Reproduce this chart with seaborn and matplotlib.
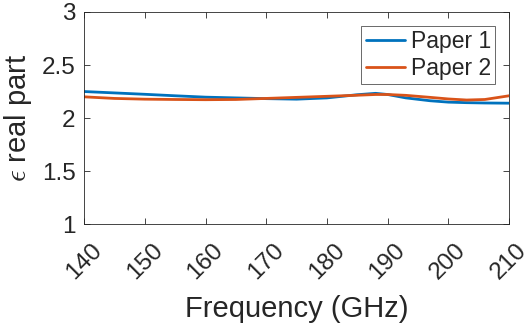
import numpy as np
import pandas as pd
import matplotlib
matplotlib.use('Agg')
import matplotlib.pyplot as plt
import seaborn as sns

# data
freq = [140, 145, 150, 155, 160, 165, 170, 175, 180, 185, 188, 190, 193, 197, 200, 203, 206, 210]
paper1 = [2.25, 2.237, 2.224, 2.21, 2.197, 2.19, 2.183, 2.178, 2.19, 2.22, 2.233, 2.222,
          2.19, 2.163, 2.15, 2.145, 2.142, 2.14]
paper2 = [2.20, 2.185, 2.178, 2.175, 2.173, 2.175, 2.185, 2.195, 2.205, 2.215, 2.222, 2.222,
          2.214, 2.195, 2.18, 2.17, 2.175, 2.21]
yticks = [1, 1.5, 2, 2.5, 3]
ytick_labels = ['1', '1.5', '2', '2.5', '3']
xticks = [140, 150, 160, 170, 180, 190, 200, 210]

sns.set_style('ticks')
plt.rcParams['font.family'] = ['Liberation Sans', 'DejaVu Sans']
plt.rcParams['mathtext.fontset'] = 'cm'

df = pd.DataFrame({'Frequency': freq * 2,
                   'eps': paper1 + paper2,
                   'src': ['Paper 1'] * len(freq) + ['Paper 2'] * len(freq)})

fig = plt.figure(figsize=(5.32, 3.33), dpi=100)
ax = fig.add_axes([0.158, 0.327, 0.799, 0.637])
sns.lineplot(data=df, x='Frequency', y='eps', hue='src',
             palette=['#0072BD', '#D95319'], linewidth=2, ax=ax)

ax.set_xlim(140, 210)
ax.set_ylim(1, 3)
ax.set_xticks(xticks)
ax.set_yticks(yticks)
ax.set_yticklabels(ytick_labels)
ax.tick_params(direction='in', top=True, right=True, labelsize=17.5,
               length=4, width=0.6, colors='#262626', labelcolor='#262626')
ax.tick_params(axis='x', pad=11)
ax.tick_params(axis='y', pad=6)
plt.setp(ax.get_xticklabels(), rotation=45, ha='center')
for s in ax.spines.values():
    s.set_linewidth(0.6)
    s.set_color('#262626')
    s.set_visible(True)

ax.set_xlabel('Frequency (GHz)', fontsize=21, color='#262626', labelpad=8)
ax.set_ylabel(r'$\epsilon$ real part', fontsize=21, color='#262626', labelpad=6)

leg = ax.legend(loc='upper right', fontsize=16.5, frameon=True, fancybox=False,
                edgecolor='#262626', handlelength=1.7, handletextpad=0.25,
                borderaxespad=0.6, labelspacing=0.15, borderpad=0.2)
leg.get_frame().set_linewidth(0.6)

fig.savefig('out.png', dpi=100)
